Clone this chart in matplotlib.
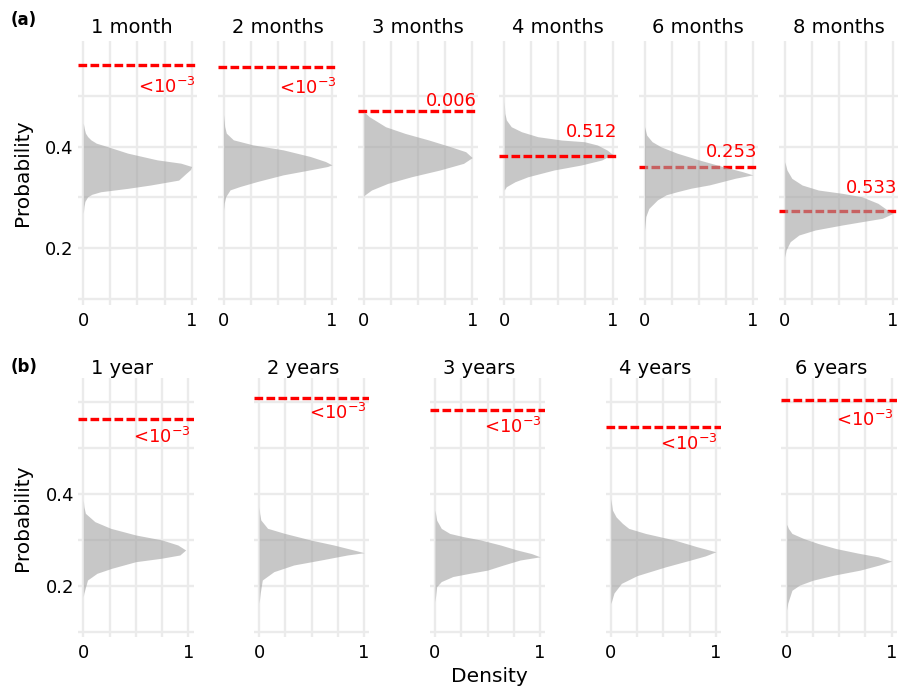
import matplotlib.pyplot as plt

W, H = 898, 689

# ---------------- data ----------------
titles_a = ["1 month", "2 months", "3 months", "4 months", "6 months", "8 months"]
titles_b = ["1 year", "2 years", "3 years", "4 years", "6 years"]

# observed probability (red dashed line) and its p-value label
observed_a = [0.561, 0.558, 0.471, 0.382, 0.359, 0.2728]
observed_b = [0.5636, 0.609, 0.583, 0.547, 0.604]
LT = r"<10$^{\mathregular{-3}}$"
pval_a = [LT, LT, "0.006", "0.512", "0.253", "0.533"]
pval_b = [LT, LT, LT, LT, LT]
pval_y_a = [0.538, 0.536, 0.480, 0.420, 0.380, 0.3085]
pval_y_b = [0.547, 0.599, 0.568, 0.530, 0.584]
# draw the observed line above the density (only the 4-month panel does this)
line_on_top_a = [False, False, False, True, False, False]
line_on_top_b = [False, False, False, False, False]

# simulated distributions: probability (y) and scaled density (x)
m1_prob = [0.268, 0.282, 0.292, 0.301, 0.306, 0.311, 0.3177, 0.3243, 0.334, 0.3475, 0.355,
           0.3609, 0.3675, 0.3741, 0.3873, 0.4004, 0.407, 0.4136, 0.42, 0.4268, 0.435, 0.4465]
m1_dens = [0, 0.006, 0.015, 0.04, 0.08, 0.16, 0.41, 0.62, 0.88, 0.95, 0.99,
           1.0, 0.9, 0.68, 0.41, 0.22, 0.12, 0.07, 0.04, 0.02, 0.01, 0]

m2_prob = [0.275, 0.2885, 0.3015, 0.3147, 0.3213, 0.3312, 0.3444, 0.3543, 0.3609, 0.3642,
           0.3708, 0.3807, 0.3938, 0.4037, 0.4136, 0.4268, 0.44, 0.4632]
m2_dens = [0, 0.006, 0.02, 0.06, 0.15, 0.31, 0.55, 0.8, 0.96, 1.0,
           0.94, 0.8, 0.55, 0.27, 0.09, 0.025, 0.01, 0]

m3_prob = [0.302, 0.3045, 0.3144, 0.3275, 0.3407, 0.3539, 0.3671, 0.3785, 0.3901, 0.4,
           0.4132, 0.4263, 0.4395, 0.4593, 0.469]
m3_dens = [0, 0.007, 0.07, 0.22, 0.44, 0.7, 0.92, 1.0, 0.94, 0.8,
           0.6, 0.38, 0.2, 0.05, 0]

m4_prob = [0.3144, 0.321, 0.3308, 0.3407, 0.354, 0.3638, 0.3737, 0.385, 0.3935, 0.4034,
           0.4099, 0.4132, 0.4198, 0.4296, 0.4395, 0.4528, 0.466, 0.49]
m4_dens = [0, 0.02, 0.1, 0.22, 0.46, 0.71, 0.9, 1.0, 0.95, 0.86,
           0.74, 0.53, 0.31, 0.16, 0.065, 0.02, 0.006, 0]

m6_prob = [0.235, 0.262, 0.278, 0.295, 0.305, 0.311, 0.318, 0.3246, 0.3378, 0.3444,
           0.351, 0.3609, 0.3741, 0.3873, 0.4, 0.41, 0.423, 0.44]
m6_dens = [0, 0.012, 0.04, 0.12, 0.2, 0.3, 0.43, 0.6, 0.84, 1.0,
           0.9, 0.72, 0.5, 0.3, 0.15, 0.07, 0.02, 0]

m8_prob = [0.182, 0.1959, 0.2123, 0.2255, 0.2354, 0.2453, 0.2518, 0.2585, 0.2684, 0.2715,
           0.2881, 0.3012, 0.3079, 0.3144, 0.3243, 0.3375, 0.354, 0.3704]
m8_dens = [0, 0.012, 0.05, 0.13, 0.28, 0.53, 0.71, 0.9, 1.0, 0.97,
           0.86, 0.71, 0.53, 0.31, 0.16, 0.065, 0.02, 0]

y1_prob = [0.176, 0.1834, 0.2124, 0.227, 0.2379, 0.2524, 0.2597, 0.267, 0.2779, 0.2888,
           0.2997, 0.3106, 0.3252, 0.3397, 0.3579, 0.372, 0.387]
y1_dens = [0, 0.005, 0.04, 0.13, 0.27, 0.5, 0.74, 0.92, 0.975, 0.9,
           0.75, 0.5, 0.26, 0.11, 0.02, 0.006, 0]

y2_prob = [0.162, 0.1834, 0.2124, 0.2306, 0.2452, 0.2561, 0.267, 0.272, 0.2779, 0.2888,
           0.2997, 0.3143, 0.3252, 0.3433, 0.358, 0.372]
y2_dens = [0, 0.01, 0.03, 0.14, 0.33, 0.59, 0.84, 1.0, 0.9, 0.71,
           0.49, 0.24, 0.08, 0.016, 0.005, 0]

y3_prob = [0.165, 0.198, 0.209, 0.22, 0.227, 0.234, 0.245, 0.256, 0.263, 0.27,
           0.278, 0.289, 0.3, 0.307, 0.314, 0.325, 0.343, 0.365]
y3_dens = [0, 0.016, 0.06, 0.17, 0.33, 0.5, 0.65, 0.81, 1.0, 0.92,
           0.78, 0.62, 0.43, 0.27, 0.14, 0.06, 0.016, 0]

y4_prob = [0.161, 0.184, 0.205, 0.222, 0.241, 0.256, 0.265, 0.274, 0.285, 0.300,
           0.314, 0.325, 0.336, 0.35, 0.365, 0.39]
y4_dens = [0, 0.03, 0.1, 0.25, 0.52, 0.76, 0.9, 1.0, 0.82, 0.6,
           0.33, 0.17, 0.11, 0.05, 0.015, 0]

y6_prob = [0.147, 0.162, 0.19, 0.201, 0.212, 0.223, 0.234, 0.245, 0.2535, 0.263,
           0.271, 0.281, 0.292, 0.303, 0.314, 0.325, 0.334]
y6_dens = [0, 0.01, 0.05, 0.12, 0.25, 0.45, 0.7, 0.88, 1.0, 0.87,
           0.68, 0.47, 0.3, 0.16, 0.05, 0.016, 0]

dens_a = [(m1_prob, m1_dens), (m2_prob, m2_dens), (m3_prob, m3_dens),
          (m4_prob, m4_dens), (m6_prob, m6_dens), (m8_prob, m8_dens)]
dens_b = [(y1_prob, y1_dens), (y2_prob, y2_dens), (y3_prob, y3_dens),
          (y4_prob, y4_dens), (y6_prob, y6_dens)]

# ---------------- layout (pixels) ----------------
fig = plt.figure(figsize=(W / 100, H / 100), dpi=100)
GRID = "#EBEBEB"
FILL = "#A3A3A3"


def fx(px):
    return px / W


def fy(py):
    return 1 - py / H


def draw_row(titles, observed, pvals, pval_y, on_top, dens, x0s, unit, top, bottom,
             ylim, ygrid, ylabels, title_base, lab_x):
    for i, title in enumerate(titles):
        left = x0s[i] - 0.05 * unit
        ax = fig.add_axes([fx(left), fy(bottom), 1.1 * unit / W, (bottom - top) / H])
        ax.set_xlim(-0.05, 1.05)
        ax.set_ylim(*ylim)
        ax.set_xticks([0, 0.25, 0.5, 0.75, 1])
        ax.set_xticklabels(["0", "", "", "", "1"])
        ax.set_yticks(ygrid)
        ax.set_yticklabels(ylabels if i == 0 else [""] * len(ygrid))
        ax.tick_params(length=0, labelsize=13, colors="black")
        ax.tick_params(axis="x", pad=5)
        ax.tick_params(axis="y", pad=3)
        ax.grid(True, color=GRID, lw=1.7)
        ax.set_axisbelow(True)
        for s in ax.spines.values():
            s.set_visible(False)

        ax.axhline(observed[i], color="red", lw=2.4, ls=(0, (2.6, 1.0)),
                   zorder=4 if on_top[i] else 2)
        p, d = dens[i]
        ax.fill_betweenx(p, 0, d, color=FILL, alpha=0.6, lw=0, zorder=3)

        va = "top" if pvals[i].startswith("<") else "baseline"
        ax.text(lab_x, pval_y[i], pvals[i], color="red", fontsize=13,
                ha="right", va=va, zorder=5)

        fig.text(fx(x0s[i] + 8), fy(title_base), title, fontsize=14,
                 ha="left", va="baseline")


# row (a)
x0_a = [83.3 + 140.3 * i for i in range(6)]
draw_row(titles_a, observed_a, pval_a, pval_y_a, line_on_top_a, dens_a, x0_a, 108.3,
         41, 305, (0.0872, 0.6089), [0.1, 0.2, 0.3, 0.4, 0.5],
         ["", "0.2", "", "0.4", ""], 33, 1.04)

# row (b)
x0_b = [83.3 + 175.85 * i for i in range(5)]
draw_row(titles_b, observed_b, pval_b, pval_y_b, line_on_top_b, dens_b, x0_b, 105,
         378, 637, (0.0881, 0.653), [0.1, 0.2, 0.3, 0.4, 0.5, 0.6],
         ["", "0.2", "", "0.4", "", ""], 374, 1.02)

fig.text(fx(23), fy(172.5), "Probability", rotation=90, fontsize=14.5,
         ha="center", va="center")
fig.text(fx(23), fy(518), "Probability", rotation=90, fontsize=14.5,
         ha="center", va="center")
fig.text(fx(489.5), fy(677), "Density", fontsize=14.5, ha="center", va="center")
fig.text(fx(11), fy(20), "(a)", fontsize=12, fontweight="bold", ha="left", va="center")
fig.text(fx(11), fy(367), "(b)", fontsize=12, fontweight="bold", ha="left", va="center")

fig.savefig("out.png", dpi=100)
